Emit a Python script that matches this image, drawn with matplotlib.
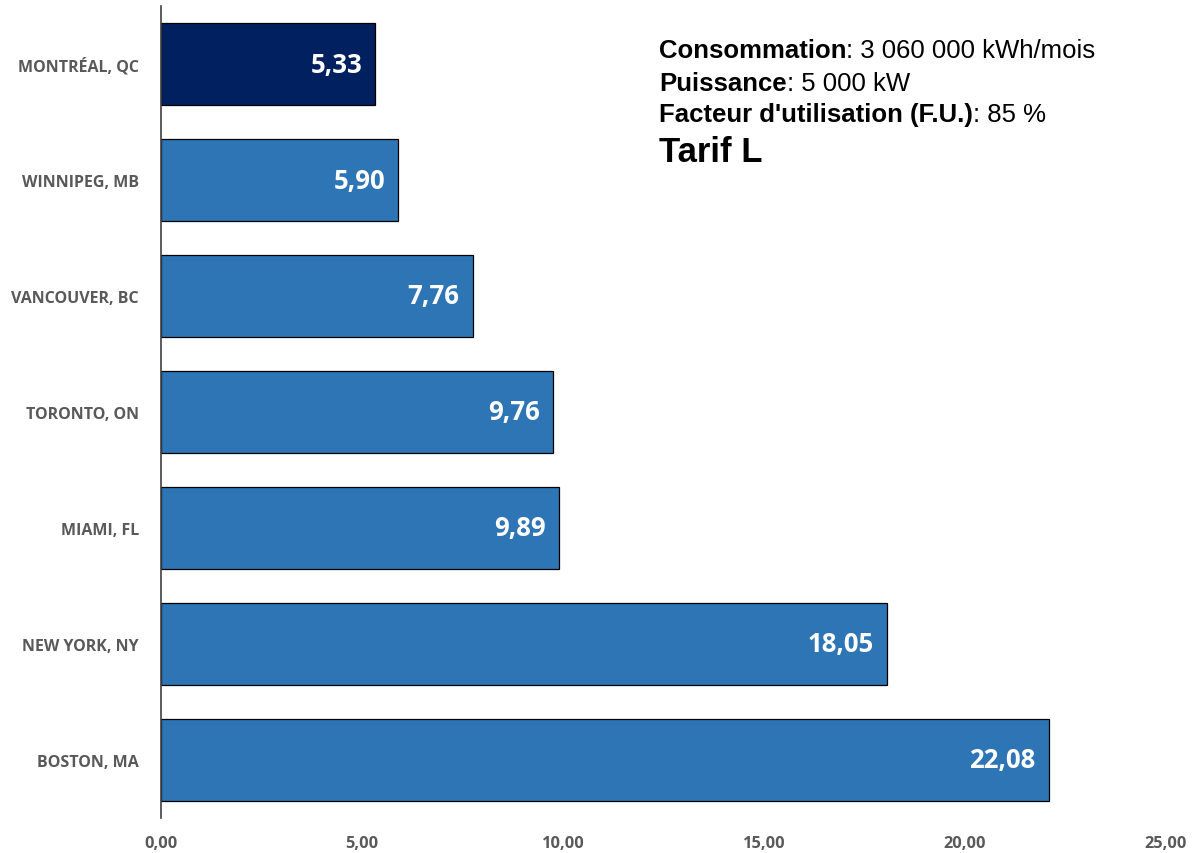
import matplotlib
matplotlib.use("Agg")
import matplotlib.pyplot as plt
from matplotlib.ticker import FuncFormatter

categories = ["MONTRÉAL, QC", "WINNIPEG, MB", "VANCOUVER, BC", "TORONTO, ON",
              "MIAMI, FL", "NEW YORK, NY", "BOSTON, MA"]
values = [5.33, 5.90, 7.76, 9.76, 9.89, 18.05, 22.08]
colors = ["#002060", "#2E75B6", "#2E75B6", "#2E75B6", "#2E75B6", "#2E75B6", "#2E75B6"]
xticks = [0, 5, 10, 15, 20, 25]
info_bold = ["Consommation", "Puissance", "Facteur d'utilisation (F.U.)"]
info_value = [": 3 060 000 kWh/mois", ": 5 000 kW", ": 85 %"]
tarif = "Tarif L"

W, H = 1195, 854
fig = plt.figure(figsize=(W / 100, H / 100), dpi=100)
ax = fig.add_axes([161 / W, 1 - 819 / H, (1166 - 161) / W, (819 - 7) / H])

ypos = list(range(len(categories)))
ax.barh(ypos, values, height=0.71, color=colors, edgecolor="black", linewidth=0.9)
ax.set_ylim(len(categories) - 0.5, -0.5)
ax.set_xlim(0, 25)

for y, v in zip(ypos, values):
    ax.text(v - 0.33, y, f"{v:.2f}".replace(".", ","), ha="right", va="center",
            color="white", fontsize=18.5, fontweight="bold", family="Open Sans")

ax.set_yticks(ypos)
ax.set_yticklabels(categories, fontsize=11.5, fontweight="bold", color="#595959", family="Open Sans")
ax.set_xticks(xticks)
ax.xaxis.set_major_formatter(FuncFormatter(lambda x, p: f"{x:.2f}".replace(".", ",")))
for lab in ax.get_xticklabels():
    lab.set_fontsize(11.8)
    lab.set_fontweight("bold")
    lab.set_color("#595959")
    lab.set_family("Open Sans")
ax.tick_params(axis="both", length=0)
ax.tick_params(axis="y", pad=16)
ax.tick_params(axis="x", pad=12)

for s in ["top", "right", "bottom"]:
    ax.spines[s].set_visible(False)
ax.spines["left"].set_color("#404040")
ax.spines["left"].set_linewidth(1.2)

renderer = fig.canvas.get_renderer()
tx = 659
line_y = [51, 84, 115]
fs = 18.5
for b, v, yy in zip(info_bold, info_value, line_y):
    t = fig.text(tx / W, 1 - yy / H, b, fontsize=fs, family="Liberation Sans",
                 fontweight="bold", va="center")
    ext = t.get_window_extent(renderer)
    fig.text(ext.x1 / W, 1 - yy / H, v, fontsize=fs, family="Liberation Sans", va="center")
fig.text(tx / W, 1 - 152 / H, tarif, fontsize=25, family="Liberation Sans", fontweight="bold", va="center")

fig.savefig("out.png", dpi=100)
